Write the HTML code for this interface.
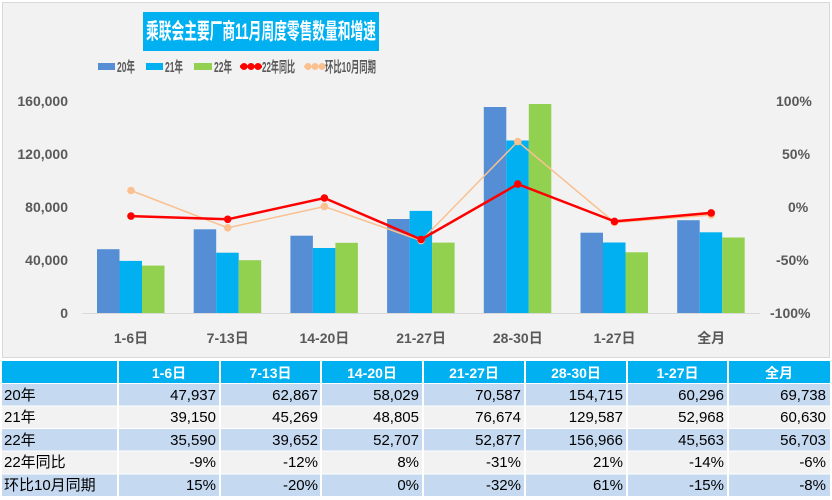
<!DOCTYPE html>
<html><head><meta charset="utf-8"><style>
html,body{margin:0;padding:0;background:#fff;}
svg{display:block;font-family:"Liberation Sans","Noto Sans CJK SC",sans-serif;}
</style></head><body>
<svg width="832" height="500" viewBox="0 0 832 500" xmlns="http://www.w3.org/2000/svg">
<rect x="0" y="0" width="832" height="500" fill="#fff"/>
<rect x="2.5" y="2.5" width="827" height="355" fill="#f2f2f2" stroke="#d9d9d9"/>
<rect x="143" y="12" width="236" height="39" fill="#00b0f0"/>
<text x="146" y="39" fill="#fff" font-size="22" font-weight="bold" textLength="230" lengthAdjust="spacingAndGlyphs">乘联会主要厂商11月周度零售数量和增速</text>
<g font-size="15" font-weight="bold" fill="#595959">
<rect x="98" y="63" width="17" height="7" fill="#558ed5"/><text x="117" y="72" textLength="18" lengthAdjust="spacingAndGlyphs">20年</text>
<rect x="146" y="63" width="17" height="7" fill="#00b0f0"/><text x="165" y="72" textLength="18" lengthAdjust="spacingAndGlyphs">21年</text>
<rect x="194" y="63" width="18" height="7" fill="#92d050"/><text x="214" y="72" textLength="18" lengthAdjust="spacingAndGlyphs">22年</text>
<line x1="240" y1="66.5" x2="262" y2="66.5" stroke="#ff0000" stroke-width="2.5"/>
<circle cx="244" cy="66.5" r="3.5" fill="#ff0000"/><circle cx="251" cy="66.5" r="3.5" fill="#ff0000"/><circle cx="258" cy="66.5" r="3.5" fill="#ff0000"/>
<text x="262" y="72" textLength="33" lengthAdjust="spacingAndGlyphs">22年同比</text>
<line x1="304" y1="66.5" x2="325" y2="66.5" stroke="#fac090" stroke-width="1.5"/>
<circle cx="308" cy="66.5" r="3.5" fill="#fac090"/><circle cx="315" cy="66.5" r="3.5" fill="#fac090"/><circle cx="322" cy="66.5" r="3.5" fill="#fac090"/>
<text x="325" y="72" textLength="51" lengthAdjust="spacingAndGlyphs">环比10月同期</text>
</g>
<g font-size="14" font-weight="bold" fill="#595959" text-anchor="end">
<text x="68" y="106">160,000</text>
<text x="68" y="159">120,000</text>
<text x="68" y="212">80,000</text>
<text x="68" y="265">40,000</text>
<text x="68" y="318">0</text>
</g>
<g font-size="14" font-weight="bold" fill="#595959" text-anchor="start">
<text x="776" y="106">100%</text>
<text x="782" y="159">50%</text>
<text x="788" y="212">0%</text>
<text x="776" y="265">-50%</text>
<text x="770" y="318">-100%</text>
</g>
<line x1="82" y1="313.5" x2="760" y2="313.5" stroke="#d9d9d9" stroke-width="1"/>
<g fill="#558ed5">
<rect x="97" y="249.2" width="22.5" height="63.8"/>
<rect x="193.7" y="229.3" width="22.5" height="83.7"/>
<rect x="290.4" y="235.7" width="22.5" height="77.3"/>
<rect x="387.1" y="219" width="22.5" height="94"/>
<rect x="483.8" y="107" width="22.5" height="206"/>
<rect x="580.5" y="232.7" width="22.5" height="80.3"/>
<rect x="677.2" y="220.2" width="22.5" height="92.8"/>
</g>
<g fill="#00b0f0">
<rect x="119.5" y="260.9" width="22.5" height="52.1"/>
<rect x="216.2" y="252.7" width="22.5" height="60.3"/>
<rect x="312.9" y="248" width="22.5" height="65"/>
<rect x="409.6" y="210.9" width="22.5" height="102.1"/>
<rect x="506.3" y="140.5" width="22.5" height="172.5"/>
<rect x="603" y="242.5" width="22.5" height="70.5"/>
<rect x="699.7" y="232.3" width="22.5" height="80.7"/>
</g>
<g fill="#92d050">
<rect x="142" y="265.6" width="22.5" height="47.4"/>
<rect x="238.7" y="260.2" width="22.5" height="52.8"/>
<rect x="335.4" y="242.8" width="22.5" height="70.2"/>
<rect x="432.1" y="242.6" width="22.5" height="70.4"/>
<rect x="528.8" y="104" width="22.5" height="209"/>
<rect x="625.5" y="252.3" width="22.5" height="60.7"/>
<rect x="722.2" y="237.5" width="22.5" height="75.5"/>
</g>
<polyline fill="none" stroke="#fac090" stroke-width="1.5" points="131,190.5 227.7,227.8 324.4,206.5 421.1,240.6 517.8,141.5 614.5,222.5 711.2,215"/>
<g fill="#fac090">
<circle cx="131" cy="190.5" r="3.8"/><circle cx="227.7" cy="227.8" r="3.8"/><circle cx="324.4" cy="206.5" r="3.8"/><circle cx="421.1" cy="240.6" r="3.8"/><circle cx="517.8" cy="141.5" r="3.8"/><circle cx="614.5" cy="222.5" r="3.8"/><circle cx="711.2" cy="215" r="3.8"/>
</g>
<polyline fill="none" stroke="#ff0000" stroke-width="2.5" points="131,216.1 227.7,219.3 324.4,198 421.1,239.5 517.8,184.1 614.5,221.4 711.2,212.9"/>
<g fill="#ff0000">
<circle cx="131" cy="216.1" r="3.8"/><circle cx="227.7" cy="219.3" r="3.8"/><circle cx="324.4" cy="198" r="3.8"/><circle cx="421.1" cy="239.5" r="3.8"/><circle cx="517.8" cy="184.1" r="3.8"/><circle cx="614.5" cy="221.4" r="3.8"/><circle cx="711.2" cy="212.9" r="3.8"/>
</g>
<g font-size="14" font-weight="bold" fill="#595959" text-anchor="middle">
<text x="131" y="343">1-6日</text>
<text x="227.7" y="343">7-13日</text>
<text x="324.4" y="343">14-20日</text>
<text x="421.1" y="343">21-27日</text>
<text x="517.8" y="343">28-30日</text>
<text x="614.5" y="343">1-27日</text>
<text x="711.2" y="343">全月</text>
</g>
<g>
<rect x="2" y="361" width="828" height="22" fill="#00b0f0"/>
<rect x="2" y="384" width="828" height="21.5" fill="#c5d9f1"/>
<rect x="2" y="406.5" width="828" height="21.5" fill="#f2f2f2"/>
<rect x="2" y="429" width="828" height="21.5" fill="#c5d9f1"/>
<rect x="2" y="451.5" width="828" height="22" fill="#f2f2f2"/>
<rect x="2" y="474.5" width="828" height="21.5" fill="#c5d9f1"/>
<g stroke="#fff" stroke-width="2">
<line x1="118" y1="361" x2="118" y2="496"/><line x1="220" y1="361" x2="220" y2="496"/><line x1="321" y1="361" x2="321" y2="496"/><line x1="423" y1="361" x2="423" y2="496"/><line x1="525" y1="361" x2="525" y2="496"/><line x1="627" y1="361" x2="627" y2="496"/><line x1="728" y1="361" x2="728" y2="496"/>
</g>
<g font-size="14" font-weight="bold" fill="#fff" text-anchor="middle">
<text x="169" y="378">1-6日</text><text x="270.5" y="378">7-13日</text><text x="372" y="378">14-20日</text><text x="474" y="378">21-27日</text><text x="576" y="378">28-30日</text><text x="677.5" y="378">1-27日</text><text x="779" y="378">全月</text>
</g>
<g font-size="15" fill="#000">
<text x="4" y="400">20年</text><text x="4" y="422">21年</text><text x="4" y="445">22年</text><text x="4" y="467">22年同比</text><text x="4" y="490">环比10月同期</text>
</g>
<g font-size="15" fill="#000" text-anchor="end">
<text x="216" y="400">47,937</text><text x="318" y="400">62,867</text><text x="419" y="400">58,029</text><text x="521" y="400">70,587</text><text x="623" y="400">154,715</text><text x="724" y="400">60,296</text><text x="826" y="400">69,738</text>
<text x="216" y="422">39,150</text><text x="318" y="422">45,269</text><text x="419" y="422">48,805</text><text x="521" y="422">76,674</text><text x="623" y="422">129,587</text><text x="724" y="422">52,968</text><text x="826" y="422">60,630</text>
<text x="216" y="445">35,590</text><text x="318" y="445">39,652</text><text x="419" y="445">52,707</text><text x="521" y="445">52,877</text><text x="623" y="445">156,966</text><text x="724" y="445">45,563</text><text x="826" y="445">56,703</text>
<text x="216" y="467">-9%</text><text x="318" y="467">-12%</text><text x="419" y="467">8%</text><text x="521" y="467">-31%</text><text x="623" y="467">21%</text><text x="724" y="467">-14%</text><text x="826" y="467">-6%</text>
<text x="216" y="490">15%</text><text x="318" y="490">-20%</text><text x="419" y="490">0%</text><text x="521" y="490">-32%</text><text x="623" y="490">61%</text><text x="724" y="490">-15%</text><text x="826" y="490">-8%</text>
</g>
</g>
</svg>
</body></html>
